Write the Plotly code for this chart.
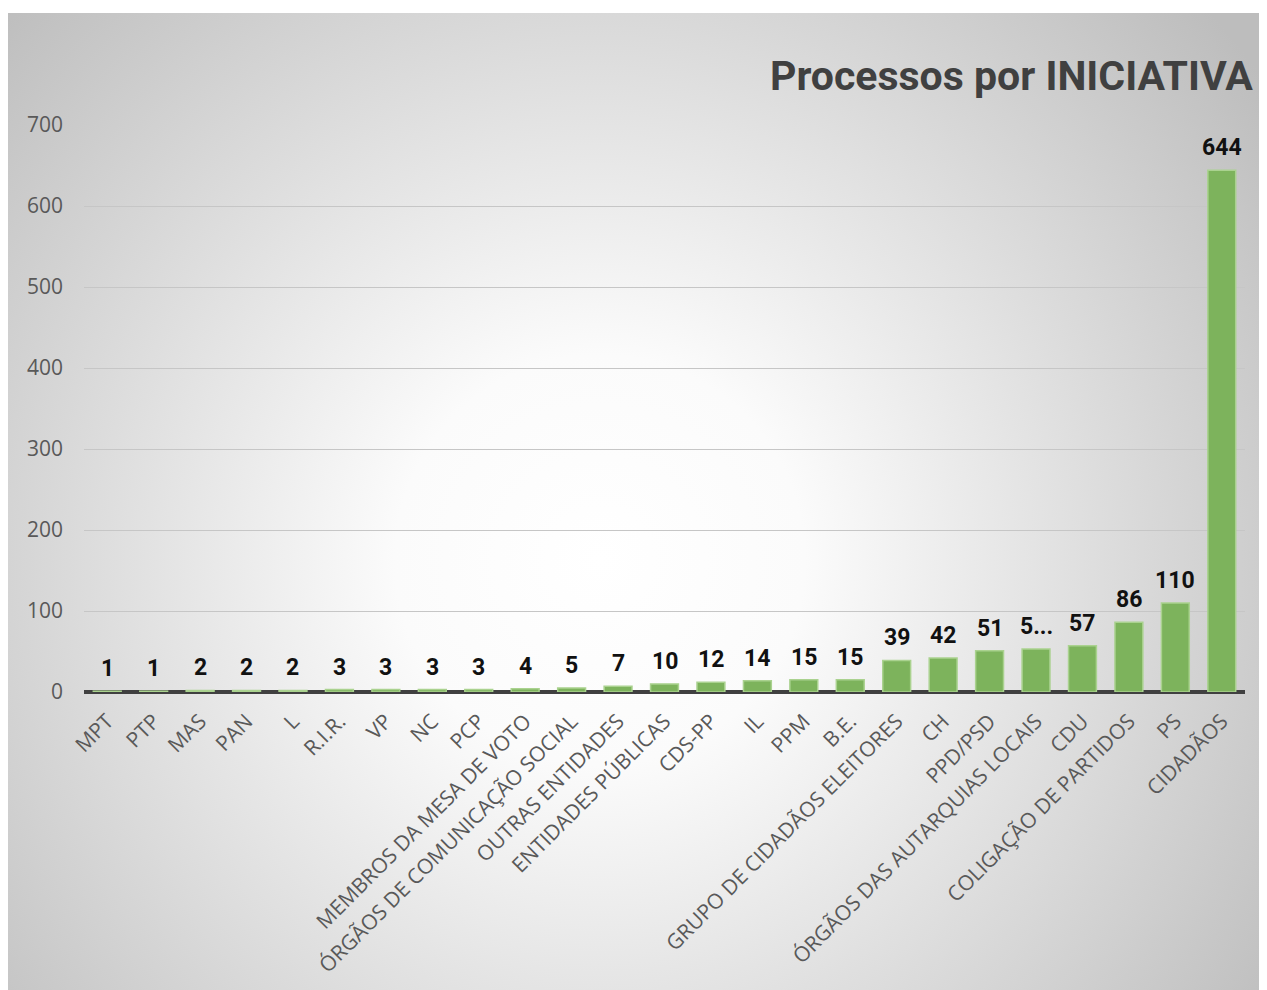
import base64
import plotly.graph_objects as go

categories = ["MPT", "PTP", "MAS", "PAN", "L", "R.I.R.", "VP", "NC", "PCP",
              "MEMBROS DA MESA DE VOTO", "ÓRGÃOS DE COMUNICAÇÃO SOCIAL",
              "OUTRAS ENTIDADES", "ENTIDADES PÚBLICAS", "CDS-PP", "IL", "PPM",
              "B.E.", "GRUPO DE CIDADÃOS ELEITORES", "CH", "PPD/PSD",
              "ÓRGÃOS DAS AUTARQUIAS LOCAIS", "CDU", "COLIGAÇÃO DE PARTIDOS",
              "PS", "CIDADÃOS"]
values = [1, 1, 2, 2, 2, 3, 3, 3, 3, 4, 5, 7, 10, 12, 14, 15, 15, 39, 42, 51,
          53, 57, 86, 110, 644]
# label as shown (one label truncated in the original)
value_labels = [str(v) for v in values]
value_labels[categories.index("ÓRGÃOS DAS AUTARQUIAS LOCAIS")] = "5..."
y_ticks = [0, 100, 200, 300, 400, 500, 600, 700]
title_text = "Processos por INICIATIVA"

W, H = 1259, 990
L, R, T, B = 76, 22, 117, 306
PW, PH = W - L - R, H - T - B

# radial gradient background (Excel-like)
fx0, fy0 = 0, 5
fw, fh = W - fx0, H - fy0
cx, cy = 592 - fx0, 552 - fy0
svg = f'''<svg xmlns="http://www.w3.org/2000/svg" width="{fw}" height="{fh}" viewBox="0 0 {fw} {fh}" preserveAspectRatio="none">
<defs><radialGradient id="g" gradientUnits="userSpaceOnUse" cx="{cx}" cy="{cy}" r="820">
<stop offset="0" stop-color="#ffffff"/><stop offset="0.25" stop-color="#fbfbfb"/><stop offset="1" stop-color="#bdbdbd"/></radialGradient></defs>
<rect x="0" y="0" width="{fw}" height="{fh}" fill="url(#g)"/></svg>'''
src = "data:image/svg+xml;base64," + base64.b64encode(svg.encode()).decode()

fig = go.Figure()
fig.add_trace(go.Bar(
    x=categories, y=values,
    marker=dict(color="#7db35c", line=dict(color="#aad28f", width=1.5)),
    hoverinfo="x+y",
))

for c, v, lab in zip(categories, values, value_labels):
    fig.add_annotation(x=c, y=v, text=f"<b>{lab}</b>", showarrow=False,
                       yanchor="bottom", yshift=7,
                       font=dict(family="Roboto", size=23, color="#111111"))

fig.add_annotation(xref="paper", yref="paper",
                   x=(760 - L) / PW, y=(H - B - 68) / PH,
                   xanchor="left", yanchor="middle", showarrow=False,
                   text=f"<b>{title_text}</b>",
                   font=dict(family="Roboto", size=41, color="#404040"))

fig.add_layout_image(dict(
    source=src, xref="paper", yref="paper",
    x=(fx0 - L) / PW, y=(H - B - fy0) / PH,
    sizex=fw / PW, sizey=fh / PH,
    xanchor="left", yanchor="top", sizing="stretch", layer="below"))

fig.update_layout(
    width=W, height=H,
    margin=dict(l=L, r=R, t=T, b=B, autoexpand=False),
    paper_bgcolor="white", plot_bgcolor="rgba(0,0,0,0)",
    bargap=0.4, showlegend=False,
    font=dict(family="Open Sans", color="#595959"),
)
fig.update_xaxes(tickangle=-45, tickfont=dict(family="Open Sans", size=21, color="#595959"),
                 showgrid=False, automargin=False, ticks="", showline=False,
                 ticklabelstandoff=12)
fig.update_yaxes(range=[0, 700], tickvals=y_ticks, showgrid=True, gridcolor="#c6c6c6",
                 gridwidth=1, zeroline=True, zerolinecolor="#404040", zerolinewidth=4,
                 tickfont=dict(family="Open Sans", size=21, color="#595959"),
                 ticklabelstandoff=20, automargin=False, showline=False)

fig.write_html("out.html")
